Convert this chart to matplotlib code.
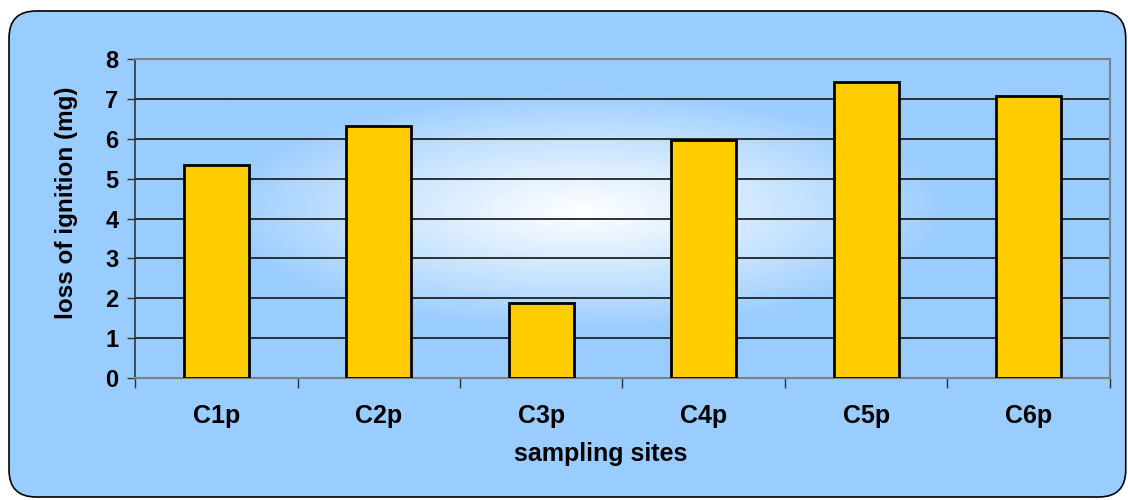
import numpy as np
import matplotlib.pyplot as plt
from matplotlib.patches import FancyBboxPatch

plt.rcParams["font.family"] = ["Liberation Sans Narrow", "Liberation Sans", "DejaVu Sans"]
plt.rcParams["font.weight"] = "bold"

# loss of ignition per sampling site
sites = ["C1p", "C2p", "C3p", "C4p", "C5p", "C6p"]
loss_mg = [5.35, 6.32, 1.89, 5.98, 7.43, 7.08]
y_ticks = [0, 1, 2, 3, 4, 5, 6, 7, 8]

BG = "#99ccff"
BAR = "#ffcc00"

fig = plt.figure(figsize=(11.28, 5.0), dpi=100)
fig.patch.set_facecolor("white")

# rounded chart frame, kept behind the axes
frame = FancyBboxPatch((0.008, 0.006), 0.990, 0.972,
                       boxstyle="round,pad=0,rounding_size=0.024",
                       transform=fig.transFigure, facecolor=BG,
                       edgecolor="black", linewidth=1.2,
                       mutation_aspect=1128 / 500, zorder=-5)
fig.add_artist(frame)

ax = fig.add_axes([0.1197, 0.244, 0.8643, 0.638])
ax.set_facecolor(BG)

# soft white glow in the middle of the plot area
gx = np.linspace(-1, 1, 400)
gy = np.linspace(-1, 1, 200)
X, Y = np.meshgrid(gx, gy)
r = np.sqrt(((X + 0.08) / 0.75) ** 2 + ((Y + 0.05) / 0.75) ** 2)
t = np.clip(1 - r, 0, 1) ** 0.9
c0 = np.array([0x99, 0xcc, 0xff]) / 255
img = c0[None, None, :] * (1 - t[..., None]) + np.ones(3)[None, None, :] * t[..., None]
ax.imshow(img, extent=[0, 1, 0, 1], transform=ax.transAxes, aspect="auto",
          zorder=0, interpolation="bilinear")

x = np.arange(len(sites))
ax.bar(x, loss_mg, width=0.4, color=BAR, edgecolor="black", linewidth=2, zorder=3)

ax.set_xlim(-0.5, len(sites) - 0.5)
ax.set_ylim(0, 8)
ax.set_yticks(y_ticks)
ax.yaxis.grid(True, color="#222222", linewidth=1.3, zorder=1)
ax.set_axisbelow(True)

ax.set_xticks(x)
ax.set_xticklabels(sites, fontsize=18, fontweight="bold")
ax.set_xticks(np.arange(len(sites) + 1) - 0.5, minor=True)
ax.tick_params(axis="x", which="major", length=0, pad=19)
ax.tick_params(axis="x", which="minor", length=7, width=1, color="#333333", direction="out")
ax.tick_params(axis="y", length=6, width=1, color="#333333", direction="out", labelsize=17, pad=6)
for lbl in ax.get_yticklabels():
    lbl.set_fontweight("bold")

for side in ["top", "right", "bottom"]:
    ax.spines[side].set_color("#808080")
    ax.spines[side].set_linewidth(1.5)
ax.spines["left"].set_color("#333333")
ax.spines["left"].set_linewidth(1.2)

ax.set_xlabel("sampling sites", fontsize=18, fontweight="bold")
ax.set_ylabel("loss of ignition (mg)", fontsize=17.5, fontweight="bold")
ax.xaxis.set_label_coords(0.478, -0.2)
ax.yaxis.set_label_coords(-0.058, 0.55)

fig.savefig("out.png", dpi=100)
